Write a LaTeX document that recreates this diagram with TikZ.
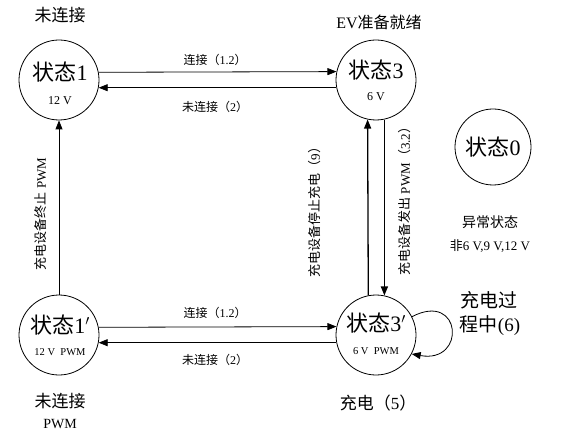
\documentclass[tikz,border=0pt]{standalone}
\usepackage{fontspec}
\setmainfont{Liberation Serif}
\newfontfamily\cjk{Noto Sans CJK SC}
\usetikzlibrary{arrows.meta}
\newcommand{\fs}[1]{\fontsize{#1}{#1}\selectfont}
\begin{document}
\begin{tikzpicture}[x=1pt,y=1pt,
  state/.style={circle,draw,line width=0.8pt,minimum size=80pt,inner sep=0pt},
  arr/.style={-{Triangle[length=9pt,width=7pt]},line width=0.8pt},
  thickarr/.style={-{Triangle[length=9pt,width=7pt]},line width=1.3pt},
  big/.style={font=\fs{22}},
  small/.style={font=\fs{12}},
  lbl/.style={font=\fs{12}},
  captxt/.style={font=\fs{17}}]
\useasboundingbox (0,0) rectangle (577,-435);

% states
\node[state] (s1) at (59,-80) {};
\node[state] (s3) at (376,-80) {};
\node[state,minimum size=76pt] (s0) at (493,-147) {};
\node[state] (s1p) at (59,-335) {};
\node[state] (s3p) at (376,-335) {};

% texts inside states
\node[big] (t1) at (60,-72) {{\cjk 状态}1};
\node[small] (v1) at (60,-101) {12 V};
\node[big] (t3) at (376,-70) {{\cjk 状态}3};
\node[small] (v3) at (376,-97) {6 V};
\node[big] (t0) at (493,-147) {{\cjk 状态}0};
\node[big] (t1p) at (60,-325) {{\cjk 状态}1$'$};
\node[font=\fs{10.5}] (v1p) at (60,-352) {12 V\ \ PWM};
\node[big] (t3p) at (376,-323) {{\cjk 状态}3$'$};
\node[font=\fs{10.5}] (v3p) at (376,-351) {6 V\ \ PWM};

% captions
\node[captxt] (c1) at (60,-15) {\cjk 未连接};
\node[font=\fs{16}] (c3) at (379,-22) {EV{\cjk 准备就绪}};
\node[captxt] (c1p) at (60,-401) {\cjk 未连接};
\node[font=\fs{14}] (c1pb) at (60,-424) {PWM};
\node[captxt] (c3p) at (378,-403) {{\cjk 充电（}5{\cjk ）}};
\node[font=\fs{19}] (cl1) at (489,-300) {\cjk 充电过};
\node[font=\fs{19}] (cl2) at (490,-326) {{\cjk 程中}(6)};
\node[font=\fs{14}] (c0a) at (490,-222) {\cjk 异常状态};
\node[font=\fs{13}] (c0b) at (490,-246) {{\cjk 非}6 V,9 V,12 V};

% horizontal connectors
\draw[arr] (s1.11.5) -- (s3.168.5);
\draw[arr] (s3.191.5) -- (s1.-11.5);
\node[lbl] (l12) at (215,-60) {{\cjk 连接（}1.2{\cjk ）}};
\node[lbl] (l2) at (215,-107) {{\cjk 未连接（}2{\cjk ）}};

\draw[arr] (s1p.11.5) -- (s3p.168.5);
\draw[arr] (s3p.191.5) -- (s1p.-11.5);
\node[lbl] (l12b) at (215,-313) {{\cjk 连接（}1.2{\cjk ）}};
\node[lbl] (l2b) at (215,-360) {{\cjk 未连接（}2{\cjk ）}};

% vertical connectors
\draw[arr] (s1p.north) -- (s1.south);
\node[font=\fs{13},rotate=90] (lv) at (41,-214) {{\cjk 充电设备终止} PWM};

\draw[thickarr] (s3p.101.5) -- (s3.258.5);
\draw[thickarr] (s3.-78.5) -- (s3p.78.5);
\node[font=\fs{13},rotate=90] (lr1) at (315,-209) {{\cjk 充电设备停止充电（}9{\cjk ）}};
\node[font=\fs{13},rotate=90] (lr2) at (405,-198) {{\cjk 充电设备发出} PWM{\cjk （}3.2{\cjk ）}};

% self loop
\draw[arr] (s3p.27) .. controls +(50,26) and +(55,-10) .. (s3p.-28);
\end{tikzpicture}
\end{document}
